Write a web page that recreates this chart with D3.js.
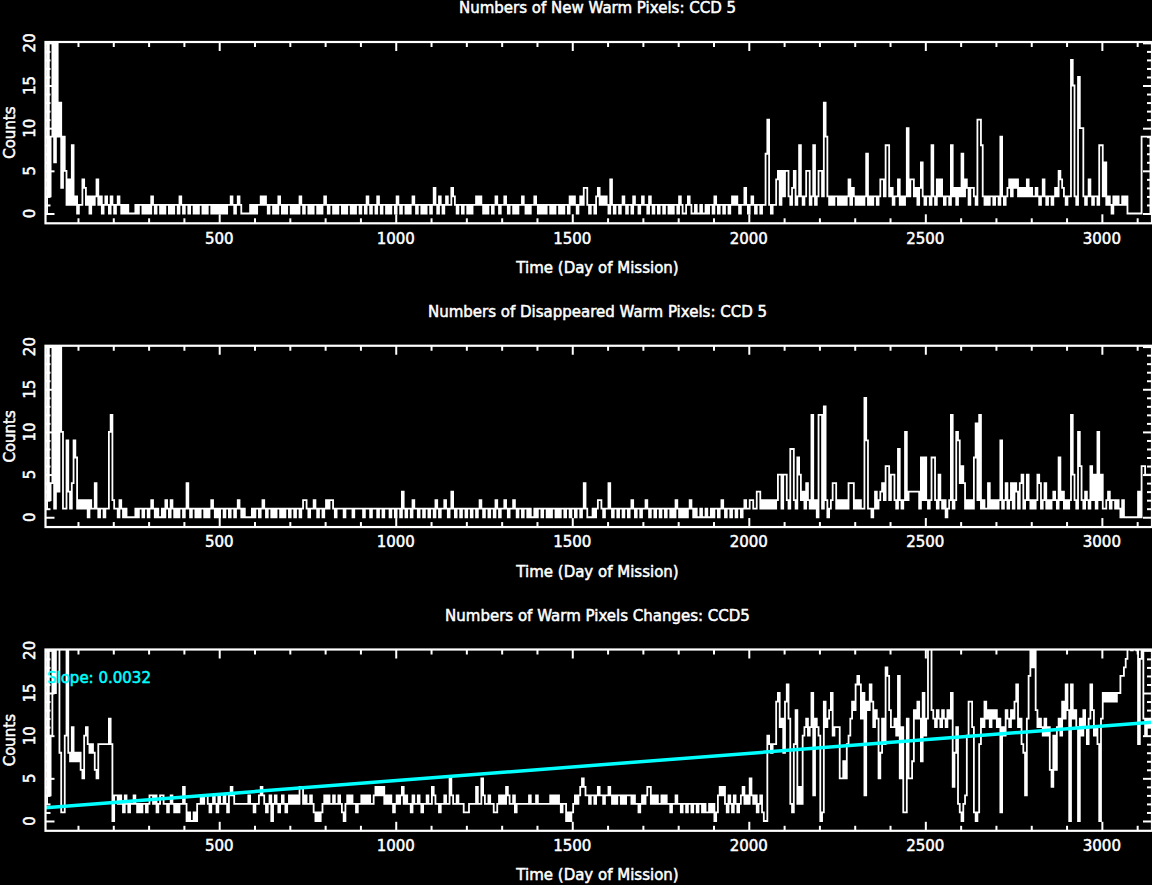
<!DOCTYPE html>
<html>
<head>
<meta charset="utf-8">
<script src="https://cdn.jsdelivr.net/npm/d3@7"></script>
<style>
html, body { margin: 0; padding: 0; background: #000; }
svg { display: block; }
</style>
</head>
<body>
<svg id="chart" width="1152" height="885"></svg>
<script>
// ---------------- data (one sample every 5 days from day 10) ----------------
const sampleStartDay = 10;
const sampleStepDays = 5;

const newCounts = [
0,25,2,9,25,6,25,9,13,3,9,5,1,4,1,8,1,2,0,1,
1,4,3,1,2,0,2,1,2,4,1,2,0,1,2,1,0,2,1,0,
1,2,1,0,1,0,1,0,0,0,0,1,0,1,1,0,1,0,1,0,
2,1,0,1,1,0,1,0,1,1,0,1,0,1,1,0,2,1,0,1,
1,0,1,1,0,1,0,1,1,0,1,0,1,1,0,1,0,1,0,1,
0,1,0,1,1,2,1,0,1,2,1,0,0,0,0,0,1,0,1,0,
1,1,2,1,2,1,0,1,1,0,1,0,2,1,0,1,0,1,1,0,
1,0,1,0,2,1,0,1,1,0,1,0,1,1,0,1,0,1,2,1,
0,1,1,0,1,0,1,1,0,1,0,1,1,0,1,0,1,1,0,1,
1,0,2,1,0,1,1,0,2,1,0,1,1,0,1,0,1,1,0,2,
1,0,1,1,0,1,0,1,2,1,0,1,1,0,1,0,1,1,0,1,
3,1,0,2,1,0,1,2,1,1,3,2,1,0,1,1,0,1,1,0,
1,0,1,1,2,1,2,1,0,1,0,1,1,0,1,2,1,0,1,1,
2,1,0,1,1,0,1,0,1,1,2,1,0,1,0,1,1,2,1,0,
1,0,1,0,1,1,0,1,0,1,1,0,1,0,1,1,0,2,1,2,
1,0,1,2,1,3,3,1,0,1,1,0,2,3,1,2,1,2,1,0,
4,1,0,1,1,0,1,2,1,0,1,1,0,2,1,1,0,1,2,1,
1,0,2,1,0,1,1,0,1,1,0,1,1,0,1,0,1,1,0,2,
1,0,0,1,2,1,0,0,1,0,0,1,0,0,1,0,1,1,0,2,
1,0,1,1,0,1,1,0,1,2,1,2,1,0,1,1,3,1,0,1,
2,1,0,1,1,0,1,1,7,11,1,0,1,1,4,5,1,5,2,5,
5,2,1,3,5,1,2,8,2,1,2,5,5,1,2,8,1,2,5,5,
2,13,9,2,1,2,1,2,2,1,2,1,2,1,2,4,1,3,2,1,
2,1,2,1,2,7,1,2,1,2,2,1,2,4,4,2,8,8,2,3,
1,2,2,4,1,2,1,2,10,2,4,4,2,3,1,3,6,2,1,2,
2,1,8,2,1,4,2,4,2,1,2,2,1,8,2,3,1,3,2,7,
2,4,3,1,3,3,2,1,11,11,8,2,1,2,1,2,2,1,2,2,
1,9,2,1,2,3,4,2,4,3,4,2,3,2,3,2,4,2,3,2,
2,3,2,1,2,4,2,1,2,2,1,2,3,2,5,4,3,2,1,2,
2,18,15,2,1,16,10,10,2,1,2,4,2,1,2,2,1,8,8,2,
6,1,2,1,0,2,1,2,1,1,2,1,2,0,0,0,0,0,0,0,
0,9,9,9,9,9,0
];

const goneCounts = [
1,25,2,4,25,1,25,3,25,10,1,1,9,3,1,4,9,7,1,2,
1,2,1,2,0,2,1,1,4,1,0,1,1,0,1,1,10,12,2,1,
1,0,2,1,0,1,0,0,0,0,0,1,0,1,1,0,1,1,0,1,
2,1,0,1,0,0,1,0,2,1,0,2,1,0,1,0,1,1,0,1,
4,1,0,1,1,0,1,0,1,1,0,1,0,1,2,1,0,1,0,1,
1,0,1,1,0,1,1,0,1,2,1,0,1,0,0,0,0,1,0,1,
1,0,1,2,1,0,1,1,0,1,0,1,1,0,1,0,1,1,0,1,
1,0,1,1,0,1,2,2,1,0,1,1,2,1,0,1,1,0,1,2,
1,2,2,1,0,1,1,1,1,0,1,1,1,1,0,1,1,1,1,1,
0,1,1,1,0,1,1,1,0,1,1,0,1,1,1,0,1,1,0,1,
1,0,3,1,0,1,1,0,2,1,1,0,1,1,0,1,1,0,1,1,
0,2,1,0,1,1,2,1,0,1,3,1,0,1,1,0,1,1,0,1,
1,0,1,1,0,1,2,1,0,1,1,0,1,1,0,2,1,0,1,1,
2,1,0,1,1,2,1,0,1,1,0,1,1,0,1,0,0,1,0,1,
1,0,1,1,0,1,0,1,1,0,1,0,1,1,0,1,1,0,1,1,
0,1,1,0,1,4,1,0,0,0,1,0,1,2,2,1,0,1,1,4,
1,0,1,1,0,1,1,0,1,1,0,1,2,1,0,1,1,0,1,1,
2,1,0,1,1,0,1,1,0,1,1,0,1,1,0,1,0,2,1,0,
1,0,1,0,1,2,1,0,1,0,0,1,0,0,1,0,0,1,0,1,
1,0,1,2,1,0,1,1,0,1,1,0,1,1,0,1,2,1,1,2,
2,1,1,3,3,1,2,1,2,1,2,1,2,1,2,5,5,1,5,5,
2,1,8,8,2,1,7,5,2,3,1,4,2,1,12,1,2,0,12,12,
1,13,2,0,1,2,4,4,1,2,1,2,1,2,1,4,4,4,1,2,
1,2,1,1,14,9,1,1,0,1,3,1,2,3,4,2,6,6,2,5,
5,2,1,8,2,1,2,10,2,3,3,3,3,3,3,1,7,2,7,2,
1,2,7,7,2,1,5,2,1,2,0,1,2,12,1,2,10,9,4,6,
4,1,2,1,2,1,7,11,2,12,1,2,1,1,4,1,2,1,2,1,
2,9,1,2,4,1,2,4,1,4,3,1,4,5,1,2,5,2,1,2,
1,2,5,4,1,2,4,1,2,1,2,3,2,1,7,2,3,1,2,1,
2,12,5,2,1,10,6,2,1,3,2,1,6,2,5,1,10,2,5,1,
1,2,3,1,2,2,1,2,1,0,2,0,0,0,0,0,0,0,0,3,
0,6,6,5,5,5,5
];

const totalCounts = [
2,25,3,10,25,15,25,25,8,1,1,10,25,8,7,11,7,8,7,8,
6,5,10,11,9,8,9,8,6,5,9,9,9,9,9,9,12,9,0,3,
3,2,3,2,1,3,2,1,2,2,3,2,1,2,1,2,2,1,2,3,
3,2,3,1,2,3,3,2,2,1,2,3,2,1,2,1,2,2,4,2,
0,1,0,0,1,0,2,2,3,2,3,3,2,1,2,3,2,1,3,2,
2,3,2,1,3,4,3,2,2,2,2,2,2,2,2,3,2,2,1,2,
2,3,4,3,2,1,2,3,0,2,3,2,1,2,3,2,1,2,3,2,
3,2,3,2,4,4,2,3,2,2,3,2,1,0,1,0,1,2,3,2,
3,2,2,3,2,2,3,2,1,0,2,3,2,3,2,2,1,2,2,3,
2,3,2,3,2,2,3,4,3,4,3,4,2,3,2,3,2,1,2,3,
2,3,4,2,3,2,2,1,3,2,2,3,2,1,2,2,3,2,2,4,
3,2,2,1,2,2,3,2,2,5,3,2,2,3,2,2,2,1,1,1,
2,2,2,2,4,2,2,5,3,2,2,3,2,2,1,1,2,3,2,3,
2,4,3,2,2,3,1,2,2,2,2,2,2,2,3,2,2,2,3,2,
2,2,2,2,2,2,3,2,3,2,3,2,1,2,2,0,1,0,1,2,
3,2,3,4,5,4,3,3,2,3,3,2,3,4,3,3,2,3,3,4,
3,2,3,2,3,3,2,3,2,3,3,3,2,3,2,2,1,2,3,2,
3,4,4,2,3,2,3,2,2,3,2,3,2,2,1,2,2,3,2,2,
1,2,2,1,2,2,1,2,2,1,2,2,1,2,1,1,2,1,2,0,
1,3,4,3,4,2,1,3,2,1,3,2,1,2,3,4,2,3,2,5,
3,2,3,1,2,3,1,0,0,10,9,8,9,9,14,15,11,12,8,14,
16,12,2,1,9,13,2,4,2,10,11,12,10,11,15,3,12,11,10,0,
1,14,11,12,13,15,10,11,11,11,5,5,7,5,9,10,12,14,13,16,
17,16,12,15,3,14,13,16,14,11,13,12,5,8,12,9,18,17,13,11,
11,12,10,17,5,11,1,1,12,5,5,7,13,12,14,12,7,15,10,12,
25,22,13,12,11,13,12,11,13,12,11,13,12,15,4,8,11,2,1,0,
2,3,10,14,14,11,1,0,1,9,12,11,14,12,13,11,13,12,13,11,
12,1,11,10,13,12,11,13,12,14,16,11,12,9,8,3,12,17,22,18,
20,13,11,12,11,10,12,10,11,6,4,10,6,11,12,10,14,12,16,13,
0,16,12,13,11,0,12,10,13,11,9,12,16,13,10,11,9,0,12,15,
14,15,14,15,14,15,14,15,15,17,17,18,19,22,21,20,21,22,20,9,
19,20,12,10,12,11,12
];

const panelTitles = [
  "Numbers of New Warm Pixels: CCD 5",
  "Numbers of Disappeared Warm Pixels: CCD 5",
  "Numbers of Warm Pixels Changes: CCD5"
];
const xTickValues = [500, 1000, 1500, 2000, 2500, 3000];
const xTickLabels = ["500", "1000", "1500", "2000", "2500", "3000"];
const yTickValues = [0, 5, 10, 15, 20];
const yTickLabels = ["0", "5", "10", "15", "20"];
const xLabel = "Time (Day of Mission)";
const yLabel = "Counts";
const fitSlope = 0.0032;
const fitIntercept = 1.53;
const slopeLabel = "Slope: 0.0032";

// ---------------- layout ----------------
const W = 1152, H = 885;
const left = 45.5, right = 1152;
const panelTops = [42, 345.75, 649.5];
const panelH = 181.3;
const xDomain = [8, 3142];
const yDomain = [-1.15, 20.1];
const fontFamily = "'DejaVu Sans', sans-serif";

const svg = d3.select("#chart");
svg.append("rect").attr("width", W).attr("height", H).attr("fill", "#000");

const x = d3.scaleLinear().domain(xDomain).range([left, right]);

const series = [newCounts, goneCounts, totalCounts];

function textStyle(sel, color) {
  return sel.attr("fill", color).attr("stroke", color).attr("stroke-width", 0.5)
    .attr("font-family", fontFamily).attr("font-size", 15);
}

series.forEach((vals, p) => {
  const top = panelTops[p], bottom = top + panelH;
  const y = d3.scaleLinear().domain(yDomain).range([bottom, top]);
  const g = svg.append("g");

  const clipId = "clip" + p;
  svg.append("clipPath").attr("id", clipId)
    .append("rect").attr("x", left).attr("y", top).attr("width", right - left).attr("height", panelH);

  const pts = vals.map((v, i) => ({ day: sampleStartDay + sampleStepDays * i, v }));
  const stepLine = d3.line().curve(d3.curveStep).x(d => x(d.day)).y(d => y(d.v));
  g.append("path").datum(pts)
    .attr("clip-path", `url(#${clipId})`)
    .attr("d", stepLine)
    .attr("fill", "none").attr("stroke", "#fff").attr("stroke-width", 1.8)
    .attr("stroke-linejoin", "miter");

  if (p === 2) {
    const fitLine = d3.line().x(d => x(d.day)).y(d => y(d.v));
    const fit = xDomain.map(d => ({ day: d, v: fitIntercept + fitSlope * d }));
    g.append("path").datum(fit)
      .attr("clip-path", `url(#${clipId})`)
      .attr("d", fitLine)
      .attr("fill", "none").attr("stroke", "#00ffff").attr("stroke-width", 3.5);
    textStyle(g.append("text"), "#00ffff")
      .attr("x", 47).attr("y", 683).text(slopeLabel);
  }

  // ticks via d3 axes (inward)
  const minorX = d3.range(100, xDomain[1], 100).filter(v => v % 500 !== 0);
  const minorY = d3.range(0, 21, 1).filter(v => v % 5 !== 0);
  const axes = [
    d3.axisBottom(x).tickValues(xTickValues).tickSize(-9), [0, bottom],
    d3.axisBottom(x).tickValues(minorX).tickSize(-5), [0, bottom],
    d3.axisTop(x).tickValues(xTickValues).tickSize(-9), [0, top],
    d3.axisTop(x).tickValues(minorX).tickSize(-5), [0, top],
    d3.axisLeft(y).tickValues(yTickValues).tickSize(-9), [left, 0],
    d3.axisLeft(y).tickValues(minorY).tickSize(-5), [left, 0],
    d3.axisRight(y).tickValues(yTickValues).tickSize(-9), [right, 0],
    d3.axisRight(y).tickValues(minorY).tickSize(-5), [right, 0]
  ];
  for (let k = 0; k < axes.length; k += 2) {
    const ax = axes[k].tickSizeOuter(0).tickFormat("");
    const t = axes[k + 1];
    const ag = g.append("g").attr("transform", `translate(${t[0]},${t[1]})`).call(ax);
    ag.select(".domain").remove();
    ag.selectAll("line").attr("stroke", "#fff").attr("stroke-width", 2);
  }

  // frame
  g.append("rect").attr("x", left).attr("y", top).attr("width", right - left).attr("height", panelH)
    .attr("fill", "none").attr("stroke", "#fff").attr("stroke-width", 2.2);

  // x tick labels
  xTickValues.forEach((v, i) => {
    textStyle(g.append("text"), "#fff")
      .attr("x", x(v)).attr("y", bottom + 20.3).attr("text-anchor", "middle").text(xTickLabels[i]);
  });
  // y tick labels (rotated)
  yTickValues.forEach((v, i) => {
    textStyle(g.append("text"), "#fff")
      .attr("transform", `translate(35.3,${y(v)}) rotate(-90)`)
      .attr("text-anchor", "middle").text(yTickLabels[i]);
  });
  // axis titles
  textStyle(g.append("text"), "#fff")
    .attr("x", 597.5).attr("y", bottom + 49.5).attr("text-anchor", "middle").text(xLabel);
  textStyle(g.append("text"), "#fff")
    .attr("transform", `translate(14.8,${(top + bottom) / 2}) rotate(-90)`)
    .attr("text-anchor", "middle").text(yLabel);
  // panel title
  textStyle(g.append("text"), "#fff")
    .attr("x", 597.5).attr("y", top - 28.8).attr("text-anchor", "middle").text(panelTitles[p]);
});
</script>
</body>
</html>
